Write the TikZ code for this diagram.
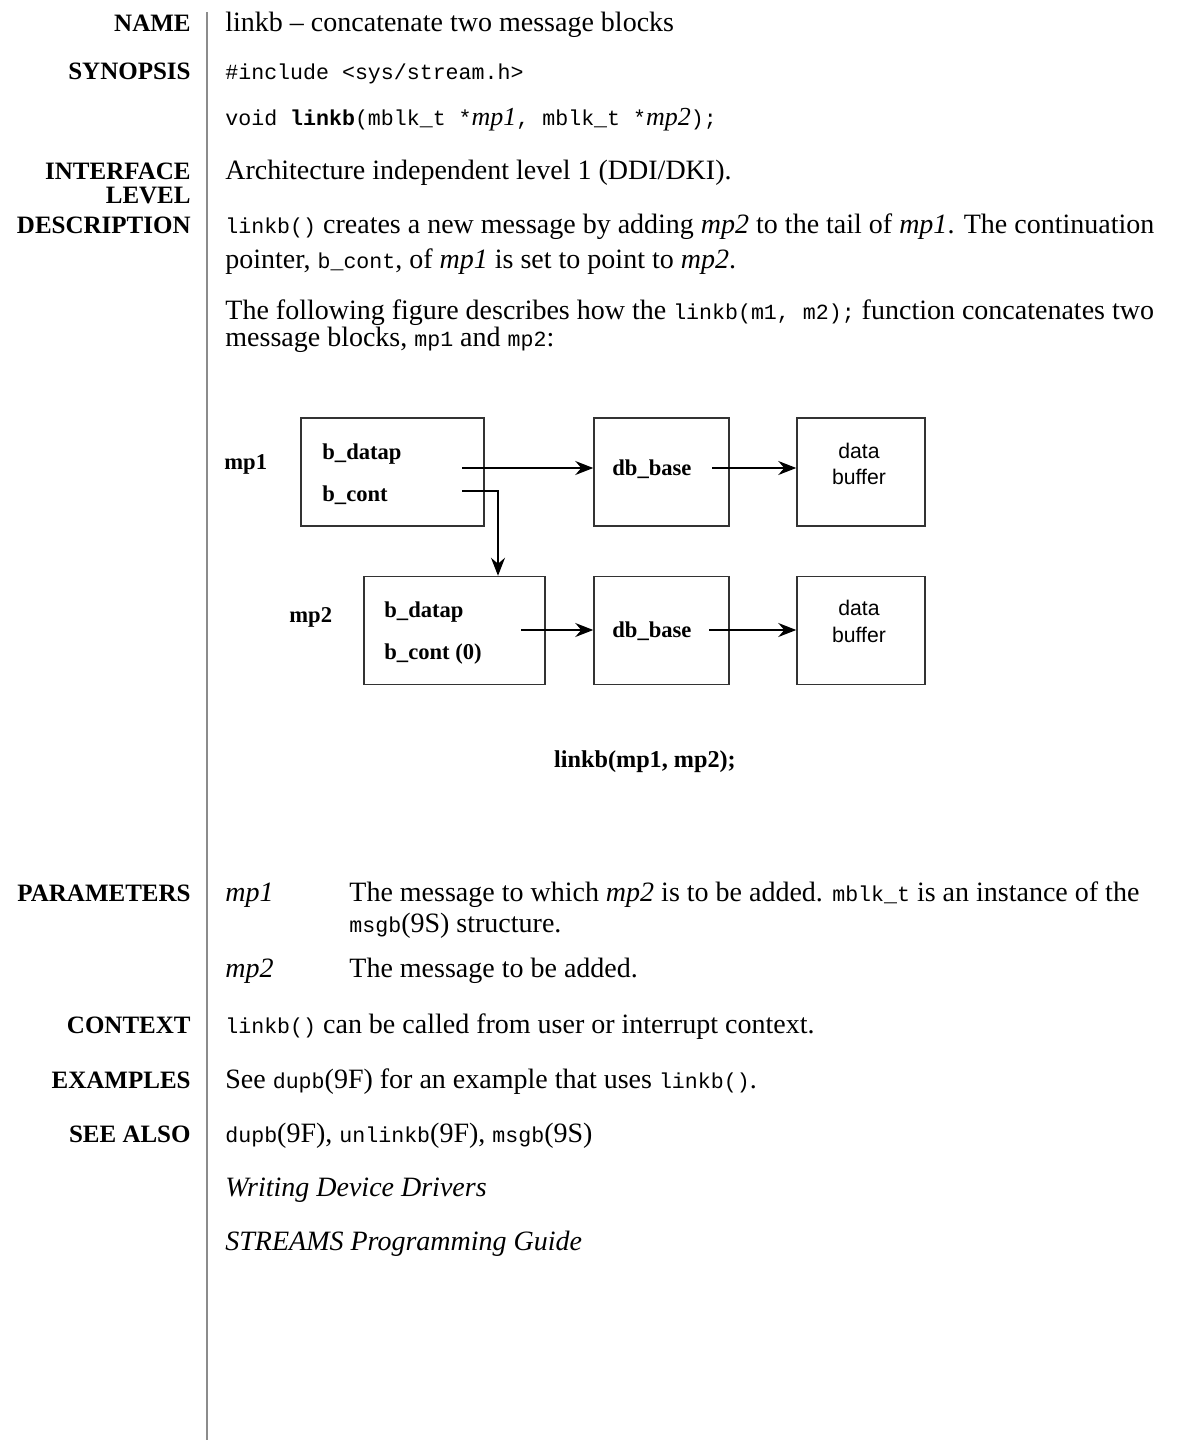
\documentclass[tikz,border=0pt]{standalone}
\usepackage{fontspec}
\setmainfont{Liberation Serif}
\setmonofont{Liberation Mono}
\newfontfamily\helvfont{Liberation Sans}
\usetikzlibrary{arrows.meta,positioning}
\newcommand\mcode[1]{{\fontsize{10.8}{12}\selectfont\ttfamily #1}}

\begin{document}
\begin{tikzpicture}[x=0.5pt,y=-0.5pt]
% estilos separados
\tikzset{
  head/.style={anchor=base east, inner sep=0pt, font=\fontsize{12.5}{14}\selectfont\bfseries},
  body/.style={anchor=base west, inner sep=0pt, font=\fontsize{14}{16}\selectfont},
  lbl/.style={anchor=base west, inner sep=0pt, font=\fontsize{11.3}{13}\selectfont\bfseries},
  buf/.style={anchor=base, inner sep=0pt, font=\fontsize{10.6}{12}\selectfont\helvfont},
  blk/.style={draw=black!80, line width=0.75pt, minimum height=54pt, inner sep=0pt},
  ptr/.style={-{Stealth[length=9pt,width=7pt,inset=3pt]}, line width=0.6pt}
}
\useasboundingbox (0,0) rectangle (1180,1446);
\fill[white] (0,0) rectangle (1180,1446);
\draw[black!45, line width=0.6pt] (207,12) -- (207,1440);

\node[head] (hName) at (191,31) {NAME};
\node[body] (tName) at (225,31) {linkb -- concatenate two message blocks};
\node[head] (hSyn) at (191,79) {SYNOPSIS};
\node[body] (tInc) at (225,79) {\mcode{\#include <sys/stream.h>}};
\node[body] (tProto) at (225,125) {\mcode{void \textbf{linkb}(mblk\_t *}{\fontsize{13}{14}\selectfont\textit{mp1}}\mcode{, mblk\_t *}{\fontsize{13}{14}\selectfont\textit{mp2}}\mcode{);}};
\node[head] (hIface) at (191,179) {INTERFACE};
\node[head] (hLevel) at (191,203) {LEVEL};
\node[body] (tIface) at (225,179) {Architecture independent level 1 (DDI/DKI).};
\node[head] (hDesc) at (191,233) {DESCRIPTION};
\node[body] (tDescA) at (225,233) {\mcode{linkb()} creates a new message by adding \textit{mp2} to the tail of \textit{mp1}. The continuation};
\node[body] (tDescB) at (225,268) {pointer, \mcode{b\_cont}, of \textit{mp1} is set to point to \textit{mp2}.};
\node[body] (tFigA) at (225,319) {The following figure describes how the \mcode{linkb(m1, m2);} function concatenates two};
\node[body] (tFigB) at (225,346) {message blocks, \mcode{mp1} and \mcode{mp2}:};

% figura
\node[blk, minimum width=91.5pt] (boxA) at (392.5,472) {};
\node[blk, minimum width=67.5pt] (dbA) at (661.5,472) {};
\node[blk, minimum width=64pt] (bufA) at (861,472) {};
\node[blk, minimum width=90.5pt] (boxB) at (454.5,630.5) {};
\node[blk, minimum width=67.5pt] (dbB) at (661.5,630.5) {};
\node[blk, minimum width=64pt] (bufB) at (861,630.5) {};

\node[lbl] (mpA) at (224,469) {mp1};
\node[lbl] (dpA) at (322,459) {b\_datap};
\node[lbl] (bcA) at (322,501) {b\_cont};
\node[lbl] (dbtA) at (612,475) {db\_base};
\node[buf] (bufAa) at (859,458) {data};
\node[buf] (bufAb) at (859,484) {buffer};
\node[lbl] (mpB) at (289,622) {mp2};
\node[lbl] (dpB) at (384,617) {b\_datap};
\node[lbl] (bcB) at (384,659) {b\_cont (0)};
\node[lbl] (dbtB) at (612,637) {db\_base};
\node[buf] (bufBa) at (859,615) {data};
\node[buf] (bufBb) at (859,642) {buffer};

\coordinate (srcA) at (462,468);
\coordinate (contA) at (462,491);
\coordinate (turnA) at (498,491);
\coordinate (srcDbA) at (712,468);
\coordinate (srcB) at (521,630);
\coordinate (srcDbB) at (709,630);
\draw[ptr] (srcA) -- (dbA.west |- srcA);
\draw[ptr] (contA) -- (turnA) -- (turnA |- boxB.north);
\draw[ptr] (srcDbA) -- (bufA.west |- srcDbA);
\draw[ptr] (srcB) -- (dbB.west |- srcB);
\draw[ptr] (srcDbB) -- (bufB.west |- srcDbB);

\node[anchor=base, inner sep=0pt, font=\fontsize{12.1}{14}\selectfont\bfseries] (cap) at (645,767) {linkb(mp1, mp2);};

\node[head] (hParam) at (191,901) {PARAMETERS};
\node[body] (pA) at (225,901) {\textit{mp1}};
\node[body] (pAa) at (349,901) {The message to which \textit{mp2} is to be added. \mcode{mblk\_t} is an instance of the};
\node[body] (pAb) at (349,932) {\mcode{msgb}(9S) structure.};
\node[body] (pB) at (225,977) {\textit{mp2}};
\node[body] (pBa) at (349,977) {The message to be added.};
\node[head] (hCtx) at (191,1033) {CONTEXT};
\node[body] (tCtx) at (225,1033) {\mcode{linkb()} can be called from user or interrupt context.};
\node[head] (hEx) at (191,1088) {EXAMPLES};
\node[body] (tEx) at (225,1088) {See \mcode{dupb}(9F) for an example that uses \mcode{linkb()}.};
\node[head] (hSee) at (191,1142) {SEE ALSO};
\node[body] (tSeeA) at (225,1142) {\mcode{dupb}(9F), \mcode{unlinkb}(9F), \mcode{msgb}(9S)};
\node[body] (tSeeB) at (225,1196) {\textit{Writing Device Drivers}};
\node[body] (tSeeC) at (225,1250) {\textit{STREAMS Programming Guide}};
\end{tikzpicture}
\end{document}
